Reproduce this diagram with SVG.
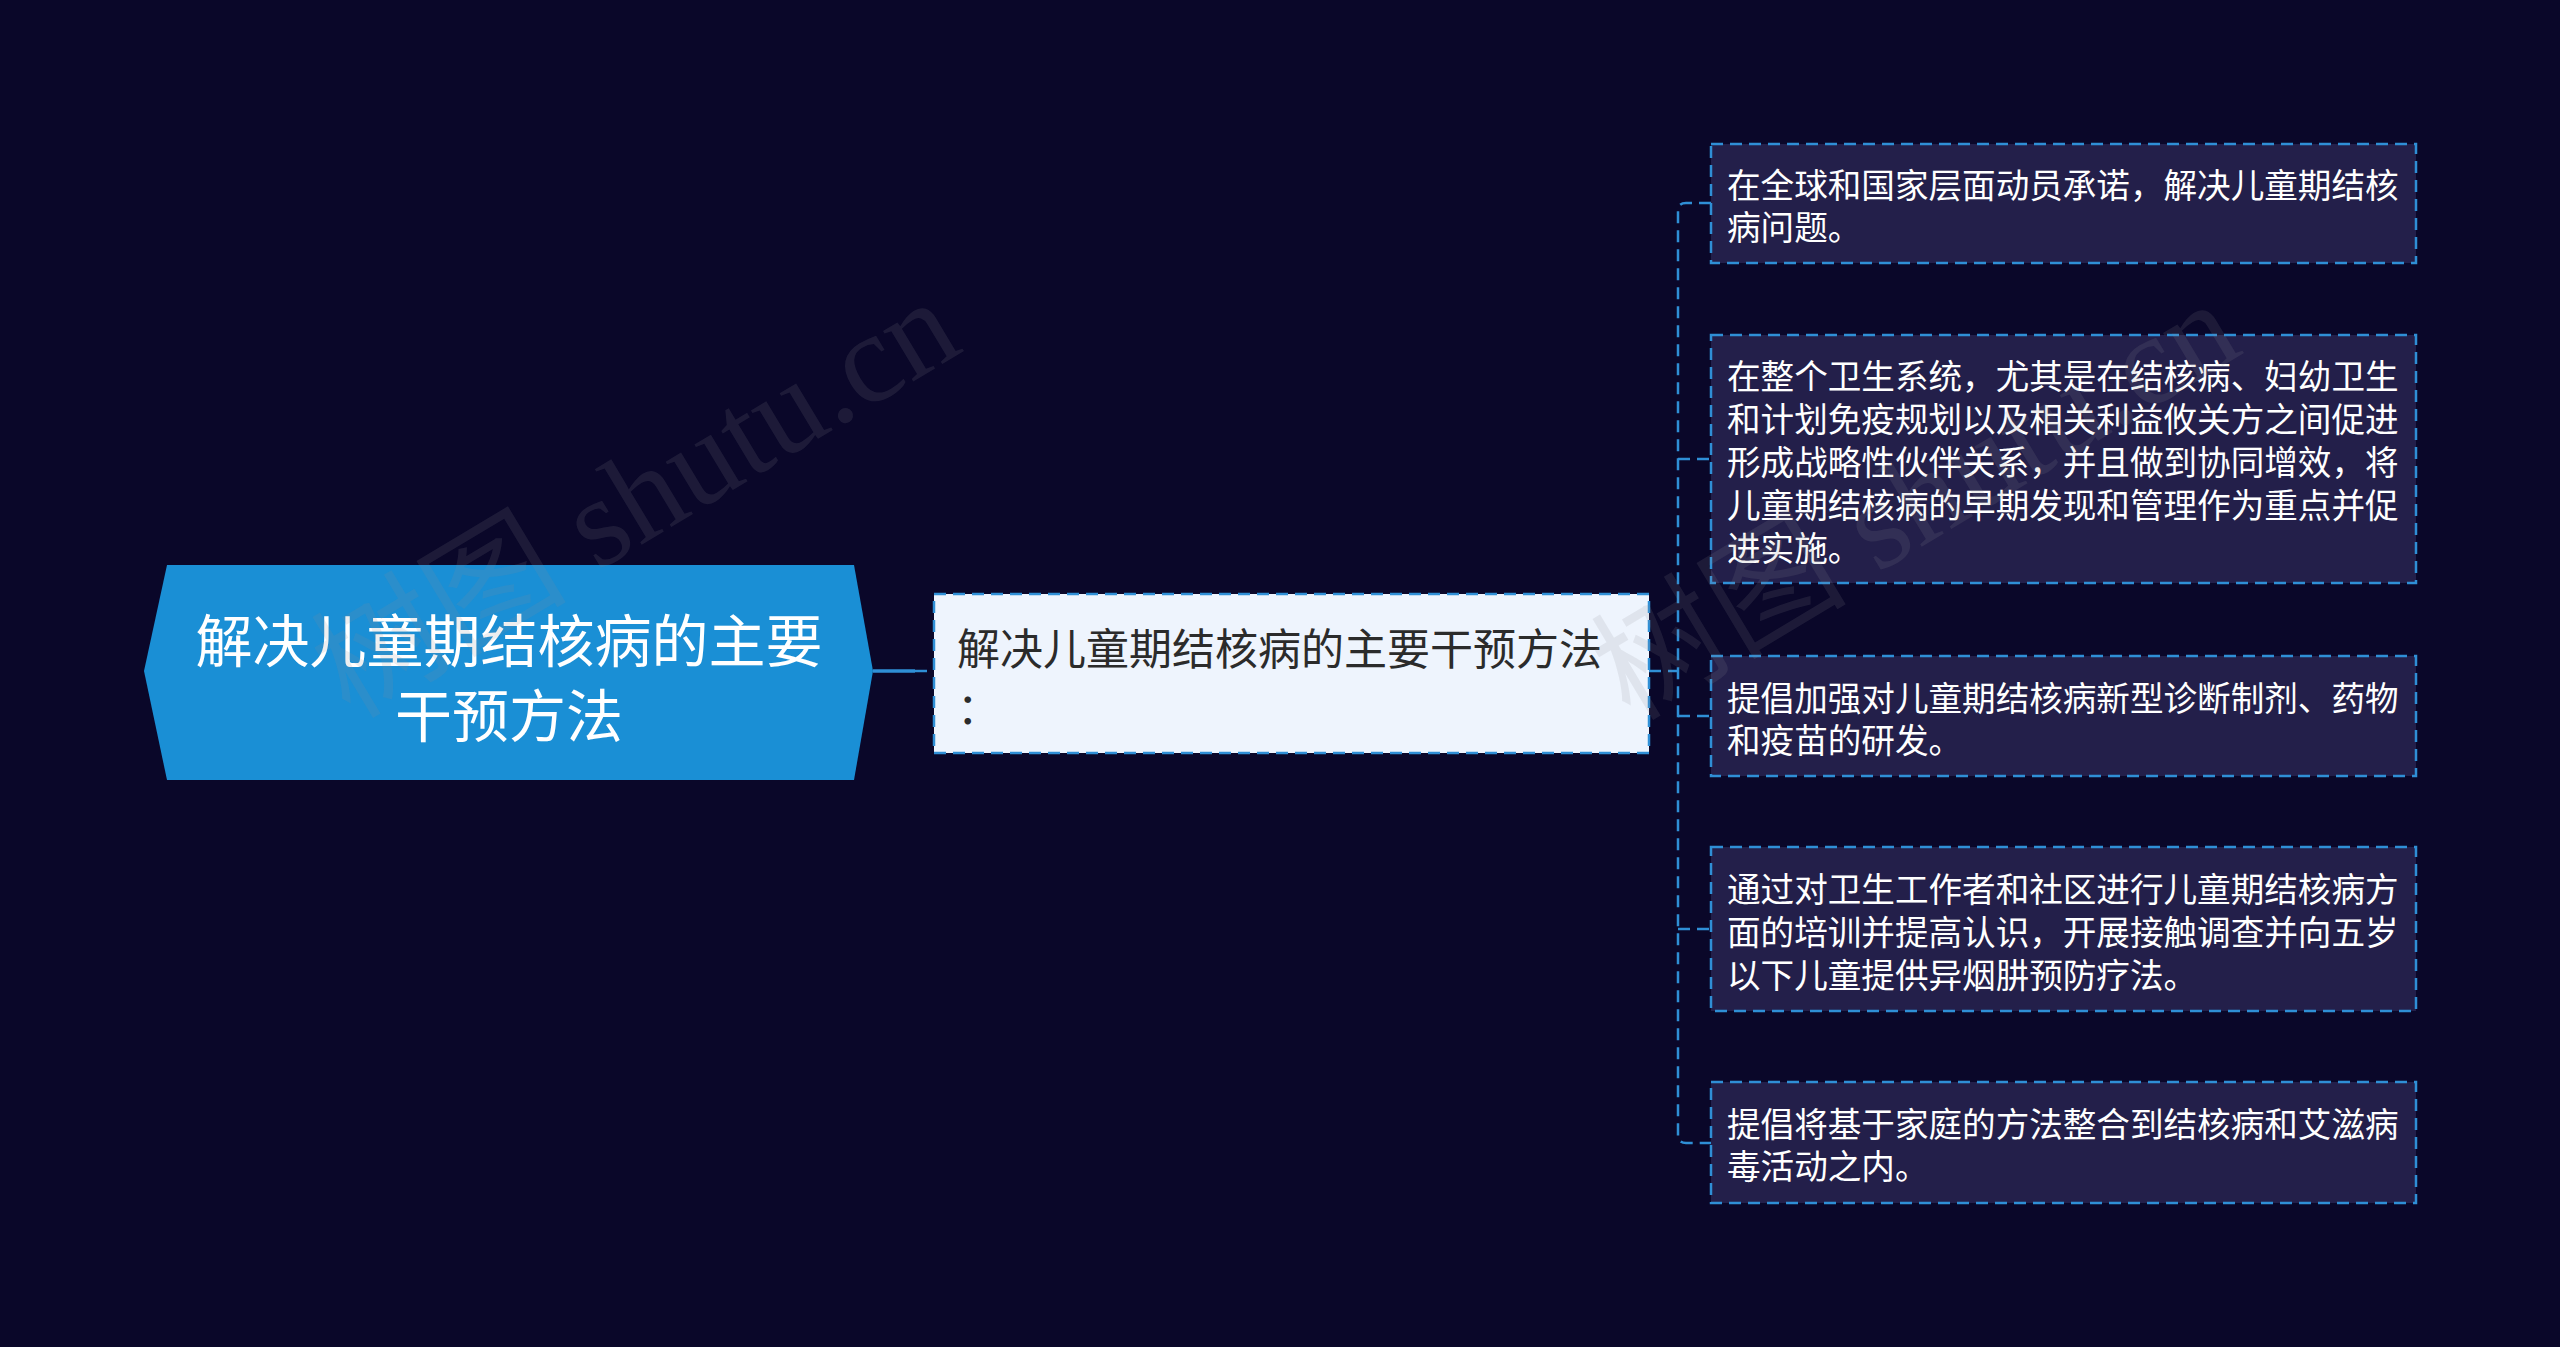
<svg xmlns="http://www.w3.org/2000/svg" width="2560" height="1347" viewBox="0 0 2560 1347">
<style>
.cjk{font-family:"Noto Sans CJK SC","Noto Sans",sans-serif;}
.leaf rect{fill:#231f4a;stroke:#2f8fd6;stroke-width:2.5;stroke-dasharray:12 7;}
.leaf text{fill:#ffffff;font-size:33.6px;}
.conn{fill:none;stroke:#2f8fd6;stroke-width:2.5;stroke-dasharray:12 7;}
.wm{font-family:"Liberation Serif","DejaVu Serif",serif;font-size:128px;fill:#8a8a96;fill-opacity:0.15;}
</style>
<rect x="0" y="0" width="2560" height="1347" fill="#0a0729"/>
<g id="connectors">
<path d="M873 671 L915 671" fill="none" stroke="#2f8fd6" stroke-width="3.5"/>
<path d="M915 671 L934 671" class="conn" stroke-width="3.5"/>
<path class="conn" d="M1649 671 L1678 671"/>
<path class="conn" d="M1711 203 L1686 203 Q1678 203 1678 211 L1678 1135 Q1678 1143 1686 1143 L1711 1143"/>
<path class="conn" d="M1678 459 L1711 459"/>
<path class="conn" d="M1678 716 L1711 716"/>
<path class="conn" d="M1678 929 L1711 929"/>
</g>
<g id="root">
<polygon points="144,671 167,565 854,565 873,671 854,780 167,780" fill="#1a8fd5"/>
<text class="cjk" font-size="57" fill="#ffffff" text-anchor="middle" dominant-baseline="central"><tspan x="509" y="637">解决儿童期结核病的主要</tspan><tspan x="509" y="712">干预方法</tspan></text>
</g>
<g id="level1">
<rect x="934" y="594" width="715" height="159" fill="#eef4fd" stroke="#2f8fd6" stroke-width="2.5" stroke-dasharray="12 7"/>
<text class="cjk" font-size="43" fill="#2b2b2b" dominant-baseline="central"><tspan x="957" y="646">解决儿童期结核病的主要干预方法</tspan><tspan x="957" y="705">：</tspan></text>
</g>
<g id="leaf1" class="leaf cjk">
<rect x="1711" y="144" width="705" height="119"/>
<text dominant-baseline="central"><tspan x="1727" y="183">在全球和国家层面动员承诺，解决儿童期结核</tspan><tspan x="1727" y="225">病问题。</tspan></text>
</g>
<g id="leaf2" class="leaf cjk">
<rect x="1711" y="335" width="705" height="248"/>
<text dominant-baseline="central"><tspan x="1727" y="374">在整个卫生系统，尤其是在结核病、妇幼卫生</tspan><tspan x="1727" y="417">和计划免疫规划以及相关利益攸关方之间促进</tspan><tspan x="1727" y="460">形成战略性伙伴关系，并且做到协同增效，将</tspan><tspan x="1727" y="503">儿童期结核病的早期发现和管理作为重点并促</tspan><tspan x="1727" y="546">进实施。</tspan></text>
</g>
<g id="leaf3" class="leaf cjk">
<rect x="1711" y="656" width="705" height="120"/>
<text dominant-baseline="central"><tspan x="1727" y="696">提倡加强对儿童期结核病新型诊断制剂、药物</tspan><tspan x="1727" y="738">和疫苗的研发。</tspan></text>
</g>
<g id="leaf4" class="leaf cjk">
<rect x="1711" y="847" width="705" height="164"/>
<text dominant-baseline="central"><tspan x="1727" y="887">通过对卫生工作者和社区进行儿童期结核病方</tspan><tspan x="1727" y="930">面的培训并提高认识，开展接触调查并向五岁</tspan><tspan x="1727" y="973">以下儿童提供异烟肼预防疗法。</tspan></text>
</g>
<g id="leaf5" class="leaf cjk">
<rect x="1711" y="1082" width="705" height="121"/>
<text dominant-baseline="central"><tspan x="1727" y="1122">提倡将基于家庭的方法整合到结核病和艾滋病</tspan><tspan x="1727" y="1164">毒活动之内。</tspan></text>
</g>
<g id="watermark">
<text class="wm" transform="translate(350,720) rotate(-31)"><tspan font-family="Noto Sans CJK SC,sans-serif">树图</tspan> shutu.cn</text>
<text class="wm" transform="translate(1630,722) rotate(-31)"><tspan font-family="Noto Sans CJK SC,sans-serif">树图</tspan> shutu.cn</text>
</g>
</svg>
